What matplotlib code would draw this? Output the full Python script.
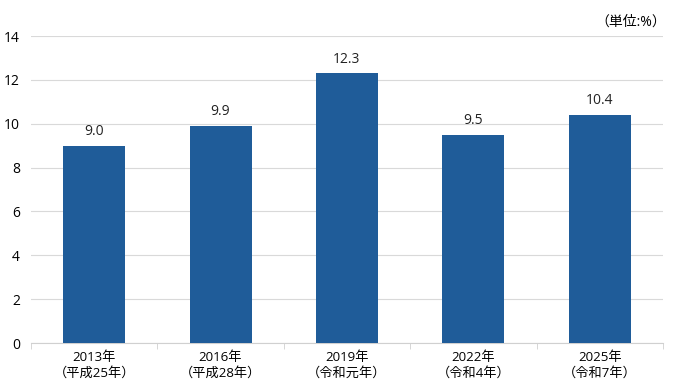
import numpy as np
import matplotlib.pyplot as plt

plt.rcParams['font.family'] = ['Open Sans', 'Noto Sans CJK JP', 'DejaVu Sans']

years = ['2013年', '2016年', '2019年', '2022年', '2025年']
eras = ['（平成25年）', '（平成28年）', '（令和元年）', '（令和4年）', '（令和7年）']
values = [9.0, 9.9, 12.3, 9.5, 10.4]

fig = plt.figure(figsize=(6.73, 3.9), dpi=100)
ax = fig.add_axes([0.046, 0.1205, 0.939, 0.787])

x = np.arange(len(values))
bars = ax.bar(x, values, width=0.49, color='#1f5c99', zorder=3)
for b, v in zip(bars, values):
    ax.text(b.get_x() + b.get_width() / 2, v + 0.3, f'{v:.1f}',
            ha='center', va='bottom', fontsize=10, color='#222222')

ax.set_ylim(0, 14)
ax.set_yticks(range(0, 15, 2))
ax.set_xlim(-0.5, len(values) - 0.5)
ax.set_xticks(x)
ax.set_xticklabels([f'{a}\n{b}' for a, b in zip(years, eras)], fontsize=9.5, linespacing=1.25)
ax.set_xticks(np.arange(-0.5, len(values)), minor=True)
ax.tick_params(axis='x', which='major', length=0, pad=6)
ax.tick_params(axis='x', which='minor', length=4, color='#d0d0d0')
ax.tick_params(axis='y', length=0, labelsize=10, pad=8)
ax.grid(axis='y', color='#d9d9d9', linewidth=0.8, zorder=0)
for s in ['top', 'right', 'left']:
    ax.spines[s].set_visible(False)
ax.spines['bottom'].set_color('#d0d0d0')

fig.text(0.99, 0.942, '（単位:%）', ha='right', va='center', fontsize=10)

fig.savefig('out.png', dpi=100)
